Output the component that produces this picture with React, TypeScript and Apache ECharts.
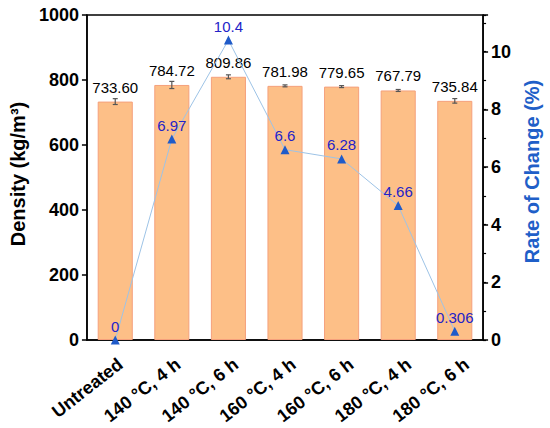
import React, { useEffect, useRef } from "react";
import * as echarts from "echarts";

const categories = [
  "Untreated",
  "140 °C, 4 h",
  "140 °C, 6 h",
  "160 °C, 4 h",
  "160 °C, 6 h",
  "180 °C, 4 h",
  "180 °C, 6 h",
];
const density = [733.6, 784.72, 809.86, 781.98, 779.65, 767.79, 735.84];
const densityErr = [9, 11, 6, 3, 3, 3, 7];
const rateOfChange = [0, 6.97, 10.4, 6.6, 6.28, 4.66, 0.306];
const leftTicks = { min: 0, max: 1000, interval: 200 };
const rightTicks = { min: 0, max: 11.27, interval: 2 };

const FONT = "'Liberation Sans', Arial, sans-serif";

export default function App() {
  const ref = useRef<HTMLDivElement>(null);
  useEffect(() => {
    if (!ref.current) return;
    const chart = echarts.init(ref.current, null, { renderer: "svg" });
    chart.setOption({
      animation: false,
      textStyle: { fontFamily: FONT },
      grid: [
        {
          left: 83,
          right: 63,
          top: 15,
          bottom: 88,
          show: true,
          borderColor: "#000",
          borderWidth: 1.5,
          backgroundColor: "transparent",
        },
        { left: 91.6, right: 54.4, top: 15, bottom: 88, show: false },
      ],
      xAxis: [
        {
          type: "category",
          gridIndex: 0,
          data: categories,
          axisLine: { lineStyle: { color: "#000", width: 1.5 } },
          axisTick: { inside: true, alignWithLabel: true, length: 6, lineStyle: { color: "#000", width: 1.5 } },
          axisLabel: { show: false },
        },
        {
          type: "category",
          gridIndex: 1,
          data: categories,
          axisLine: { show: false },
          axisTick: { show: false },
          axisLabel: {
            rotate: 38,
            interval: 0,
            fontSize: 18,
            fontWeight: "bold",
            color: "#000",
            margin: 22,
            fontFamily: FONT,
          },
        },
      ],
      yAxis: [
        {
          type: "value",
          gridIndex: 0,
          position: "left",
          min: leftTicks.min,
          max: leftTicks.max,
          interval: leftTicks.interval,
          name: "Density (kg/m³)",
          nameLocation: "middle",
          nameGap: 51,
          nameTextStyle: {
            fontSize: 20,
            fontWeight: "bold",
            color: "#000",
            fontFamily: FONT,
            padding: [0, 0, 0, 7],
          },
          axisLine: { show: true, lineStyle: { color: "#000", width: 1.5 } },
          axisTick: { show: true, length: 5, lineStyle: { color: "#000", width: 1.5 } },
          axisLabel: {
            fontSize: 18,
            fontWeight: "bold",
            color: "#000",
            margin: 8,
            fontFamily: FONT,
            formatter: (v: number) => String(v),
          },
          splitLine: { show: false },
        },
        {
          type: "value",
          gridIndex: 0,
          position: "right",
          min: rightTicks.min,
          max: rightTicks.max,
          interval: rightTicks.interval,
          name: "Rate of Change (%)",
          nameLocation: "middle",
          nameGap: 35,
          nameTextStyle: {
            fontSize: 20,
            fontWeight: "bold",
            color: "#1F5FC8",
            fontFamily: FONT,
            padding: [0, 0, 0, 12],
          },
          axisLine: { show: true, lineStyle: { color: "#000", width: 1.5 } },
          axisTick: { show: true, length: 5, lineStyle: { color: "#000", width: 1.5 } },
          axisLabel: {
            fontSize: 18,
            fontWeight: "bold",
            color: "#000",
            margin: 8,
            fontFamily: FONT,
            formatter: (v: number) => (Math.abs(v % 2) < 1e-9 && v <= 10 ? String(v) : ""),
          },
          splitLine: { show: false },
        },
        {
          type: "value",
          gridIndex: 0,
          position: "right",
          min: rightTicks.min,
          max: rightTicks.max,
          interval: 1,
          axisLine: { show: false },
          axisTick: { show: true, length: 3, lineStyle: { color: "#000", width: 1.2 } },
          axisLabel: { show: false },
          splitLine: { show: false },
        },
        {
          type: "value",
          gridIndex: 1,
          show: false,
        },
      ],
      series: [
        {
          type: "bar",
          data: density,
          xAxisIndex: 0,
          yAxisIndex: 0,
          barWidth: "62%",
          itemStyle: { color: "#FDBF87", borderColor: "#F5A07C", borderWidth: 1 },
          label: {
            show: true,
            position: "top",
            distance: 7,
            fontSize: 15,
            color: "#000",
            fontFamily: FONT,
            formatter: (p: any) => density[p.dataIndex].toFixed(2),
          },
          z: 2,
        },
        {
          type: "custom",
          xAxisIndex: 0,
          yAxisIndex: 0,
          data: density.map((v, i) => [i, v, densityErr[i]]),
          renderItem: (params: any, api: any) => {
            const x = api.value(0);
            const y = api.value(1);
            const e = api.value(2);
            const top = api.coord([x, y + e]);
            const bot = api.coord([x, y - e]);
            const w = 2.5;
            const style = { stroke: "#555", lineWidth: 1.2 };
            return {
              type: "group",
              children: [
                { type: "line", shape: { x1: top[0], y1: top[1], x2: bot[0], y2: bot[1] }, style },
                { type: "line", shape: { x1: top[0] - w, y1: top[1], x2: top[0] + w, y2: top[1] }, style },
                { type: "line", shape: { x1: bot[0] - w, y1: bot[1], x2: bot[0] + w, y2: bot[1] }, style },
              ],
            };
          },
          z: 3,
        },
        {
          type: "line",
          data: rateOfChange,
          xAxisIndex: 0,
          yAxisIndex: 1,
          symbol: "triangle",
          symbolSize: 9,
          itemStyle: { color: "#1F5BC9" },
          lineStyle: { color: "#9DC3E6", width: 1 },
          label: {
            show: true,
            position: "top",
            distance: 2,
            fontSize: 15,
            color: "#2323C8",
            fontFamily: FONT,
          },
          z: 4,
        },
      ],
    });
    return () => chart.dispose();
  }, []);
  return (
    <div
      ref={ref}
      style={{ position: "fixed", left: 0, top: 0, width: 550, height: 428, background: "#fff" }}
    />
  );
}
